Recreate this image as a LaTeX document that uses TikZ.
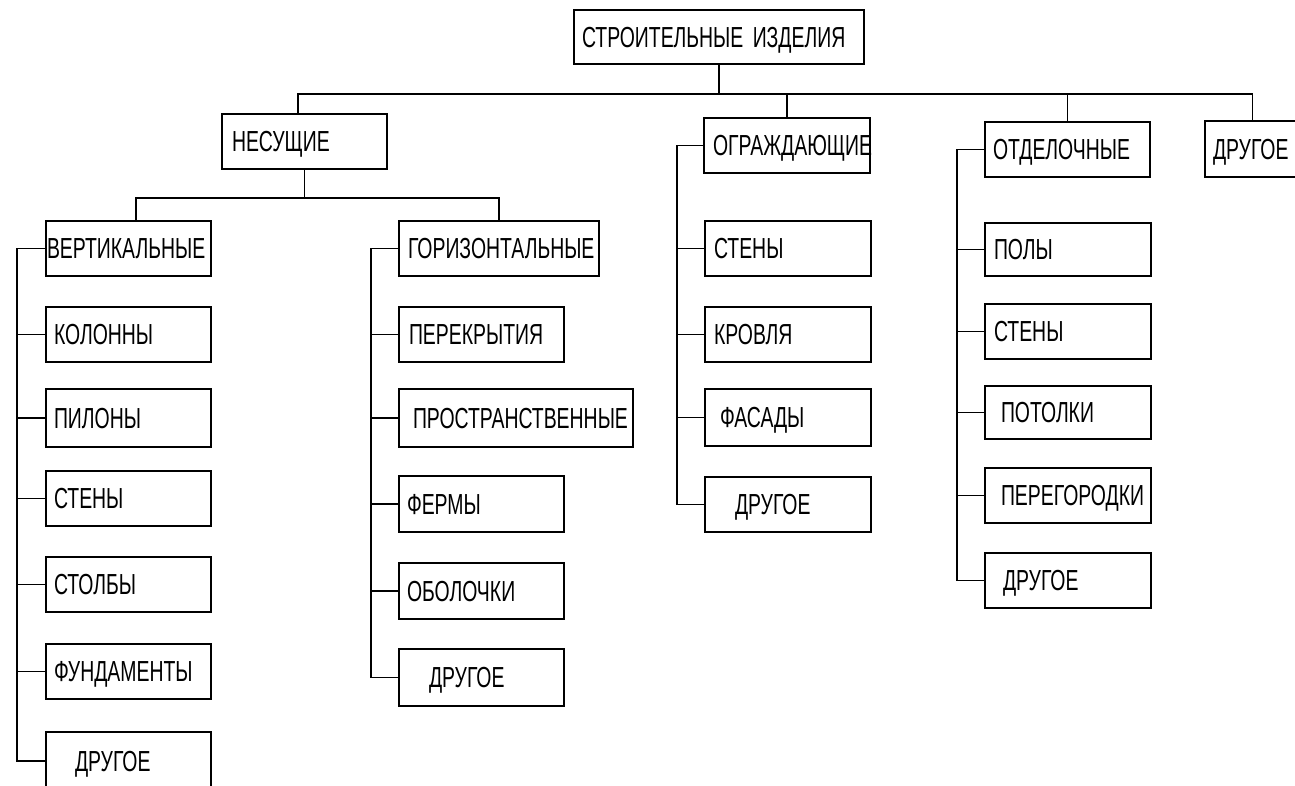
\documentclass[tikz,border=0pt]{standalone}
\usepackage{fontspec}
\setmainfont{Liberation Sans}[FakeStretch=0.67]
\begin{document}
\begin{tikzpicture}[x=1pt,y=-1pt,
  boxst/.style={draw, line width=1.4pt, rectangle, inner sep=0pt, outer sep=0pt},
  lbl/.style={anchor=west, inner sep=0pt, outer sep=0pt, text height=20.8pt, text depth=0pt,
    font=\fontsize{29}{32}\selectfont},
  wire/.style={line width=1.4pt}]
\useasboundingbox (0,0) rectangle (1295,785);
\clip (0,0) rectangle (1295,785);
\fill[white] (0,0) rectangle (1295,785);
\newcommand\bx[7]{%
  \node[boxst, minimum width={#4-#2}, minimum height={#5-#3}, anchor=north west] (#1) at (#2,#3) {};
  \node[lbl] (#1t) at ([xshift=#6]#1.west) {#7};}
% top
\bx{top}{574}{10}{864}{64}{8}{СТРОИТЕЛЬНЫЕ\hspace{4pt} ИЗДЕЛИЯ}
\bx{nes}{222}{114}{387}{169}{10}{НЕСУЩИЕ}
\bx{ogr}{704}{118}{870}{173}{9}{ОГРАЖДАЮЩИЕ}
\bx{otd}{985}{122}{1150}{177}{8}{ОТДЕЛОЧНЫЕ}
\bx{ddr}{1205}{121}{1300}{177}{8}{ДРУГОЕ}
% vertical column
\bx{ver}{46}{221}{211}{276}{1}{ВЕРТИКАЛЬНЫЕ}
\bx{kol}{46}{307}{211}{362}{8}{КОЛОННЫ}
\bx{pil}{46}{389}{211}{447}{8}{ПИЛОНЫ}
\bx{vst}{46}{471}{211}{526}{8}{СТЕНЫ}
\bx{sto}{46}{557}{211}{612}{8}{СТОЛБЫ}
\bx{fun}{46}{644}{211}{699}{8}{ФУНДАМЕНТЫ}
\bx{vdr}{46}{732}{211}{790}{29}{ДРУГОЕ}
% horizontal column
\bx{gor}{399}{221}{599}{276}{9}{ГОРИЗОНТАЛЬНЫЕ}
\bx{per}{399}{307}{564}{362}{10}{ПЕРЕКРЫТИЯ}
\bx{pro}{399}{389}{633}{447}{14}{ПРОСТРАНСТВЕННЫЕ}
\bx{fer}{399}{476}{564}{532}{8}{ФЕРМЫ}
\bx{obo}{399}{563}{564}{619}{8}{ОБОЛОЧКИ}
\bx{gdr}{399}{649}{564}{706}{30}{ДРУГОЕ}
% ograzhdayushchie column
\bx{ost}{705}{221}{871}{276}{9}{СТЕНЫ}
\bx{kro}{705}{307}{871}{362}{9}{КРОВЛЯ}
\bx{fas}{705}{389}{871}{446}{15}{ФАСАДЫ}
\bx{odr}{705}{477}{871}{532}{30}{ДРУГОЕ}
% otdelochnye column
\bx{pol}{985}{223}{1151}{276}{9}{ПОЛЫ}
\bx{tst}{985}{304}{1151}{359}{9}{СТЕНЫ}
\bx{pot}{985}{386}{1151}{439}{16}{ПОТОЛКИ}
\bx{prg}{985}{468}{1151}{523}{16}{ПЕРЕГОРОДКИ}
\bx{tdr}{985}{553}{1151}{608}{18}{ДРУГОЕ}
% buses
\coordinate (bus) at (0,94);
\coordinate (bus2) at (0,198);
\draw[wire] (top.south) -- (top.south |- bus);
\draw[wire] ([xshift=-6.5]nes.north) |- (ddr.north |- bus) -- (ddr.north);
\draw[wire] (ogr.north) -- (ogr.north |- bus);
\draw[wire] (otd.north) -- (otd.north |- bus);
\draw[wire] (nes.south) -- (nes.south |- bus2);
\draw[wire] ([xshift=7.5]ver.north) |- (gor.north |- bus2) -- (gor.north);
% spines
\coordinate (s1) at (17,0);
\coordinate (s2) at (371,0);
\coordinate (s3) at (677,0);
\coordinate (s4) at (957,0);
\draw[wire] (ver.west) -- (ver.west -| s1) -- (vdr.west -| s1) -- (vdr.west);
\foreach \n in {kol,pil,vst,sto,fun} \draw[wire] (\n.west) -- (\n.west -| s1);
\draw[wire] (gor.west) -- (gor.west -| s2) -- (gdr.west -| s2) -- (gdr.west);
\foreach \n in {per,pro,fer,obo} \draw[wire] (\n.west) -- (\n.west -| s2);
\draw[wire] (ogr.west) -- (ogr.west -| s3) -- (odr.west -| s3) -- (odr.west);
\foreach \n in {ost,kro,fas} \draw[wire] (\n.west) -- (\n.west -| s3);
\draw[wire] (otd.west) -- (otd.west -| s4) -- (tdr.west -| s4) -- (tdr.west);
\foreach \n in {pol,tst,pot,prg} \draw[wire] (\n.west) -- (\n.west -| s4);
\end{tikzpicture}
\end{document}
